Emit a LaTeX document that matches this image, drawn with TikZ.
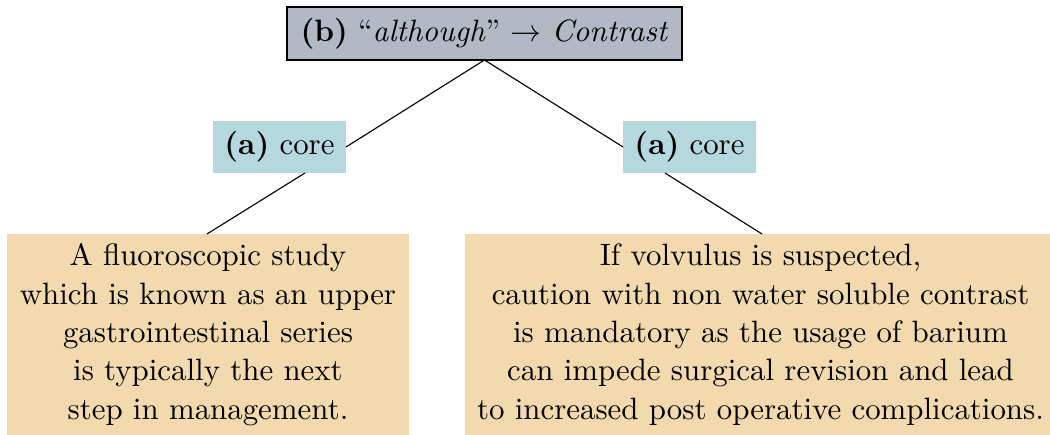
\documentclass[tikz,border=0pt]{standalone}
\usetikzlibrary{calc}
\definecolor{topgray}{HTML}{B2B9C5}
\definecolor{corecyan}{HTML}{B4D8DE}
\definecolor{leaftan}{HTML}{F2D9AE}
\begin{document}
\begin{tikzpicture}[x=0.3546pt,y=-0.3546pt,
  every node/.style={font=\fontsize{10.95}{13.6}\selectfont, inner sep=0pt, outer sep=0pt},
  topbox/.style={draw=black, line width=0.4pt, fill=topgray, minimum width=395*0.3546pt, minimum height=53*0.3546pt},
  corebox/.style={fill=corecyan, minimum width=133*0.3546pt, minimum height=52*0.3546pt},
  leafbox/.style={fill=leaftan, align=center, minimum height=201*0.3546pt},
  edge/.style={draw=black, line width=0.4pt}]
\useasboundingbox (0,0) rectangle (1050,435);
\node[topbox] (top) at (484.5,33.5) {\textbf{(b)} ``\textit{although}'' $\rightarrow$ \textit{Contrast}};
\node[corebox] (lcore) at (279.5,147) {\textbf{(a)} core};
\node[corebox] (rcore) at (689.5,147) {\textbf{(a)} core};
\node[leafbox, minimum width=402*0.3546pt] (lleaf) at (208,334.5) {A fluoroscopic study\\which is known as an upper\\gastrointestinal series\\is typically the next\\step in management.};
\node[leafbox, minimum width=591*0.3546pt] (rleaf) at (760.5,334.5) {If volvulus is suspected,\\caution with non water soluble contrast\\is mandatory as the usage of barium\\can impede surgical revision and lead\\to increased post operative complications.};
\draw[edge] (top.south) -- (lcore.east);
\draw[edge] (top.south) -- (rcore.west);
\draw[edge] ($(lcore.south)+(25.5,0)$) -- ($(lleaf.north)+(-1,0)$);
\draw[edge] ($(rcore.south)+(-24.5,0)$) -- ($(rleaf.north)+(1.5,0)$);
\end{tikzpicture}
\end{document}
